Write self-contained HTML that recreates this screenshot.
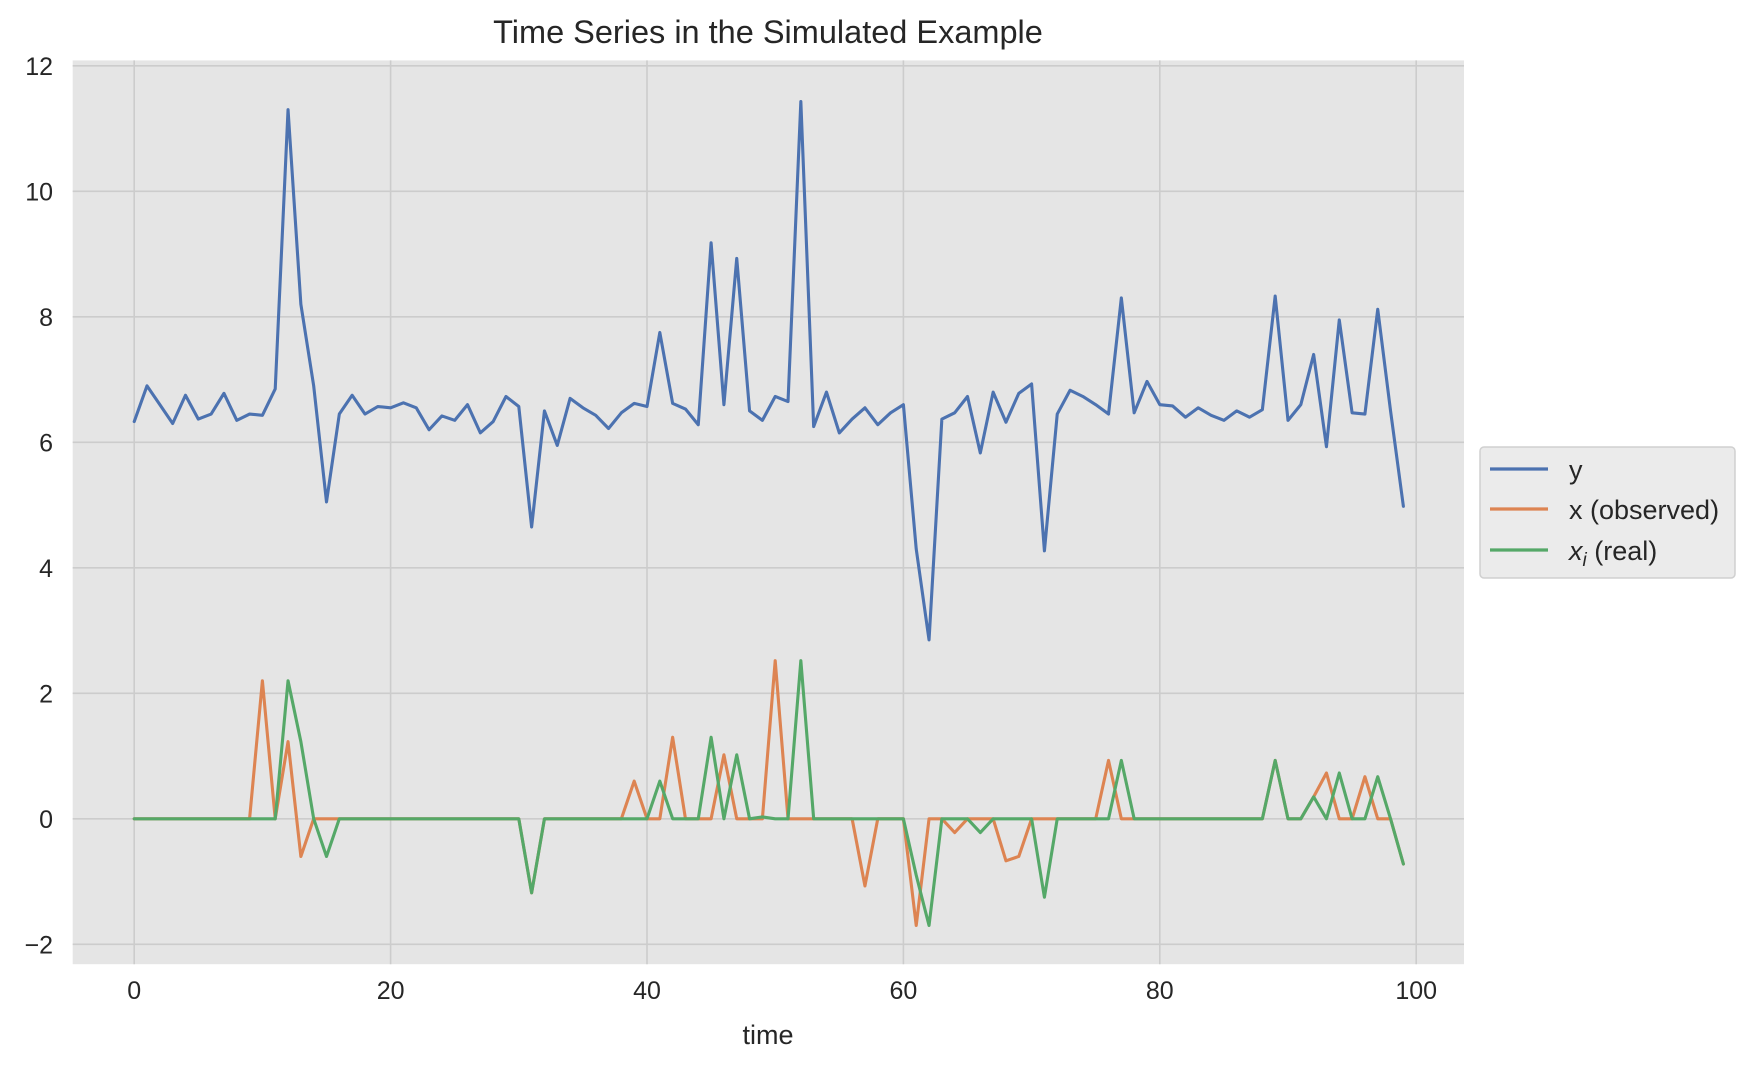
<!DOCTYPE html>
<html><head><meta charset="utf-8"><style>
html,body{margin:0;padding:0;background:#fff;}
svg{display:block;font-family:"Liberation Sans",sans-serif;}
</style></head><body>
<svg id="chart" width="1754" height="1069" viewBox="0 0 1754 1069" xmlns="http://www.w3.org/2000/svg">
<rect x="72.7" y="60.4" width="1391.3" height="903.8" fill="#e5e5e5"/>
<g id="grid"></g>
<g id="series"></g>
<g id="ticks" font-size="25" fill="#262626"></g>
<text x="768" y="43" text-anchor="middle" font-size="32.5" fill="#262626">Time Series in the Simulated Example</text>
<text x="768" y="1044" text-anchor="middle" font-size="27" fill="#262626">time</text>
<g>
<rect x="1480" y="447" width="255" height="131" rx="4" fill="#ebebeb" stroke="#d0d0d0" stroke-width="1.5"/>
<g><line x1="1490" y1="469" x2="1548" y2="469" stroke="#4c72b0" stroke-width="3.2"/><text x="1569" y="479" font-size="27" fill="#262626">y</text></g>
<g><line x1="1490" y1="509" x2="1548" y2="509" stroke="#dd8452" stroke-width="3.2"/><text x="1569" y="519" font-size="27" fill="#262626">x (observed)</text></g>
<g><line x1="1490" y1="550" x2="1548" y2="550" stroke="#55a868" stroke-width="3.2"/><text x="1569" y="560" font-size="27" fill="#262626"><tspan font-style="italic">x</tspan><tspan font-style="italic" font-size="19" dy="6">i</tspan><tspan dy="-6"> (real)</tspan></text></g>
</g>
</svg>
<script>
const yValues=[6.33,6.9,6.6,6.3,6.75,6.37,6.45,6.78,6.35,6.45,6.43,6.85,11.3,8.2,6.9,5.05,6.45,6.75,6.45,6.57,6.55,6.63,6.55,6.2,6.42,6.35,6.6,6.15,6.33,6.73,6.57,4.65,6.5,5.95,6.7,6.55,6.43,6.22,6.47,6.62,6.57,7.75,6.62,6.53,6.28,9.18,6.6,8.93,6.5,6.35,6.73,6.65,11.43,6.25,6.8,6.15,6.37,6.55,6.28,6.47,6.6,4.3,2.85,6.37,6.47,6.73,5.83,6.8,6.32,6.78,6.93,4.27,6.45,6.83,6.73,6.6,6.45,8.3,6.47,6.97,6.6,6.58,6.4,6.55,6.43,6.35,6.5,6.4,6.52,8.33,6.35,6.6,7.4,5.93,7.95,6.47,6.45,8.12,6.5,4.98];
const xObserved=[0,0,0,0,0,0,0,0,0,0,2.2,0,1.23,-0.6,0,0,0,0,0,0,0,0,0,0,0,0,0,0,0,0,0,-1.18,0,0,0,0,0,0,0,0.6,0,0,1.3,0,0,0,1.02,0,0,0,2.52,0,0,0,0,0,0,-1.07,0,0,0,-1.7,0,0,-0.22,0,0,0,-0.67,-0.6,0,0,0,0,0,0,0.93,0,0,0,0,0,0,0,0,0,0,0,0,0.93,0,0,0.35,0.73,0,0,0.67,0,0,-0.72];
const xReal=[0,0,0,0,0,0,0,0,0,0,0,0,2.2,1.23,0,-0.6,0,0,0,0,0,0,0,0,0,0,0,0,0,0,0,-1.18,0,0,0,0,0,0,0,0,0,0.6,0,0,0,1.3,0,1.02,0,0.03,0,0,2.52,0,0,0,0,0,0,0,0,-0.9,-1.7,0,0,0,-0.22,0,0,0,0,-1.25,0,0,0,0,0,0.93,0,0,0,0,0,0,0,0,0,0,0,0.93,0,0,0.35,0,0.73,0,0,0.67,0,-0.72];
const xTicks=[0,20,40,60,80,100];
const yTicks=[-2,0,2,4,6,8,10,12];
const yTickLabels=["\u22122","0","2","4","6","8","10","12"];
const NS="http://www.w3.org/2000/svg";
const xs=t=>134.2+t*12.82;
const ys=v=>818.8-v*62.75;
function mk(tag,attrs,parent){const e=document.createElementNS(NS,tag);for(const k in attrs)e.setAttribute(k,attrs[k]);parent.appendChild(e);return e;}
const grid=document.getElementById('grid'),ticks=document.getElementById('ticks'),series=document.getElementById('series');
xTicks.forEach(t=>{
 const l=mk('line',{x1:xs(t),x2:xs(t),y1:60.4,y2:964.2,stroke:'#cccccc','stroke-width':1.6},grid);
 
 
 const tx=mk('text',{x:xs(t),y:999,'text-anchor':'middle'},ticks);tx.textContent=t;
 
 
});
yTicks.forEach((v,i)=>{
 const l=mk('line',{x1:72.7,x2:1464,y1:ys(v),y2:ys(v),stroke:'#cccccc','stroke-width':1.6},grid);
 
 
 const tx=mk('text',{x:53,y:ys(v)+9,'text-anchor':'end'},ticks);tx.textContent=yTickLabels[i];
 
 
});
function line(arr,color,name){
 const d=arr.map((v,i)=>(i?'L':'M')+xs(i).toFixed(2)+','+ys(v).toFixed(2)).join('');
 const p=mk('path',{d:d,fill:'none',stroke:color,'stroke-width':3.1,'stroke-linejoin':'round','stroke-linecap':'round'},series);
 
 
}
line(yValues,'#4c72b0','series-y-line');
line(xObserved,'#dd8452','series-x-observed-line');
line(xReal,'#55a868','series-xi-real-line');
</script>
</body></html>
